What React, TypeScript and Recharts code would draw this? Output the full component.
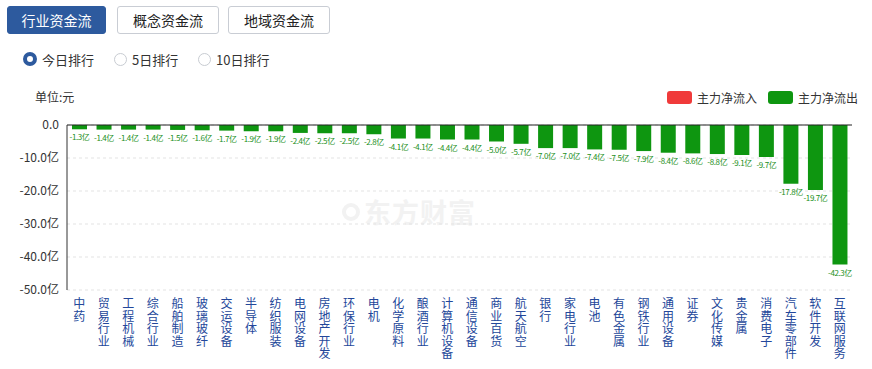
import { BarChart, Bar, XAxis, YAxis, CartesianGrid, ReferenceLine, LabelList } from "recharts";

const categories = [
  "中药", "贸易行业", "工程机械", "综合行业", "船舶制造", "玻璃玻纤", "交运设备", "半导体",
  "纺织服装", "电网设备", "房地产开发", "环保行业", "电机", "化学原料", "酿酒行业", "计算机设备",
  "通信设备", "商业百货", "航天航空", "银行", "家电行业", "电池", "有色金属", "钢铁行业",
  "通用设备", "证券", "文化传媒", "贵金属", "消费电子", "汽车零部件", "软件开发", "互联网服务",
];

const netFlow = [
  -1.3, -1.4, -1.4, -1.4, -1.5, -1.6, -1.7, -1.9, -1.9, -2.4, -2.5, -2.5, -2.8, -4.1, -4.1, -4.4,
  -4.4, -5.0, -5.7, -7.0, -7.0, -7.4, -7.5, -7.9, -8.4, -8.6, -8.8, -9.1, -9.7, -17.8, -19.7, -42.3,
];

const yTicks = [0, -10, -20, -30, -40, -50];

const tabs = ["行业资金流", "概念资金流", "地域资金流"];
const ranges = ["今日排行", "5日排行", "10日排行"];

const data = categories.map((name, i) => ({ name, value: netFlow[i] }));

const font = "'Microsoft YaHei', 'Noto Sans CJK SC', sans-serif";

// category names are stacked one character per line under each bar
function VerticalTick(props: any) {
  const { x, y, payload } = props;
  const chars = String(payload.value).split("");
  return (
    <text x={x} y={y} fill="#23479a" fontSize={12} textAnchor="middle" fontFamily={font}>
      {chars.map((c, i) => (
        <tspan key={i} x={x} dy={i === 0 ? 10 : 12.6}>
          {c}
        </tspan>
      ))}
    </text>
  );
}

function BarLabel(props: any) {
  const { x, y, width, height, value } = props;
  const bottom = Math.max(y, y + height);
  return (
    <text
      x={x + width / 2}
      y={bottom + 11}
      fill="#1a8f1a"
      fontSize={8}
      letterSpacing={-0.4}
      textAnchor="middle"
      fontFamily={font}
    >
      {value.toFixed(1)}亿
    </text>
  );
}

export default function App() {
  return (
    <div style={{ position: "absolute", left: 0, top: 0, width: 872, height: 369, background: "#fff", fontFamily: font }}>
      {tabs.map((t, i) => (
        <div
          key={t}
          style={{
            position: "absolute",
            left: [7, 117, 228][i],
            top: 6,
            width: [99, 102, 102][i],
            height: 28,
            boxSizing: "border-box",
            border: i === 0 ? "1px solid #2d5a9e" : "1px solid #c9cdd4",
            borderRadius: 3,
            background: i === 0 ? "#2d5a9e" : "#fff",
            color: i === 0 ? "#fff" : "#222",
            fontSize: 14,
            lineHeight: "26px",
            textAlign: "center",
          }}
        >
          {t}
        </div>
      ))}
      {ranges.map((r, i) => (
        <div
          key={r}
          style={{ position: "absolute", left: [23, 114, 198][i], top: 50, height: 18, display: "flex", alignItems: "center", fontSize: 13, color: "#333" }}
        >
          <span
            style={{
              display: "inline-block",
              width: i === 0 ? 6 : 11,
              height: i === 0 ? 6 : 11,
              borderRadius: "50%",
              border: i === 0 ? "4px solid #2d5a9e" : "1px solid #c8ccd2",
              marginRight: 5,
            }}
          />
          {r}
        </div>
      ))}
      <div style={{ position: "absolute", left: 35, top: 88, fontSize: 12, color: "#333" }}>单位:元</div>
      <div style={{ position: "absolute", left: 667, top: 89, display: "flex", alignItems: "center", fontSize: 12, color: "#333" }}>
        <span style={{ width: 25, height: 13, borderRadius: 3, background: "#f03a3a", marginRight: 5 }} />
        主力净流入
        <span style={{ width: 25, height: 13, borderRadius: 3, background: "#0e9610", margin: "0 5px 0 11px" }} />
        主力净流出
      </div>
      {/* faint watermark behind the plot */}
      <div
        style={{ position: "absolute", left: 342, top: 192, display: "flex", alignItems: "center", fontSize: 27, fontWeight: "bold", color: "#f2f2f2", letterSpacing: 1 }}
      >
        <span style={{ width: 18, height: 18, borderRadius: "50%", border: "4px solid #f2f2f2", boxSizing: "border-box", marginRight: 4 }} />
        东方财富
      </div>
      <div style={{ position: "absolute", left: 0, top: 0 }}>
        <BarChart width={872} height={369} data={data} margin={{ top: 125, right: 20, left: 7, bottom: 4 }}>
          <CartesianGrid vertical={false} stroke="#e3e3e3" strokeDasharray="3 3" />
          <XAxis dataKey="name" interval={0} axisLine={false} tickLine={false} height={75} tick={<VerticalTick />} />
          <YAxis
            domain={[-50, 0]}
            ticks={yTicks}
            width={60}
            axisLine={{ stroke: "#333" }}
            tickLine={false}
            tick={{ fontSize: 12, fill: "#333", fontFamily: font }}
            tickFormatter={(v: number) => (v === 0 ? "0.0" : v.toFixed(1) + "亿")}
          />
          <ReferenceLine y={0} stroke="#222" />
          <Bar dataKey="value" fill="#0e9610" barSize={15} isAnimationActive={false}>
            <LabelList dataKey="value" content={<BarLabel />} />
          </Bar>
        </BarChart>
      </div>
    </div>
  );
}
